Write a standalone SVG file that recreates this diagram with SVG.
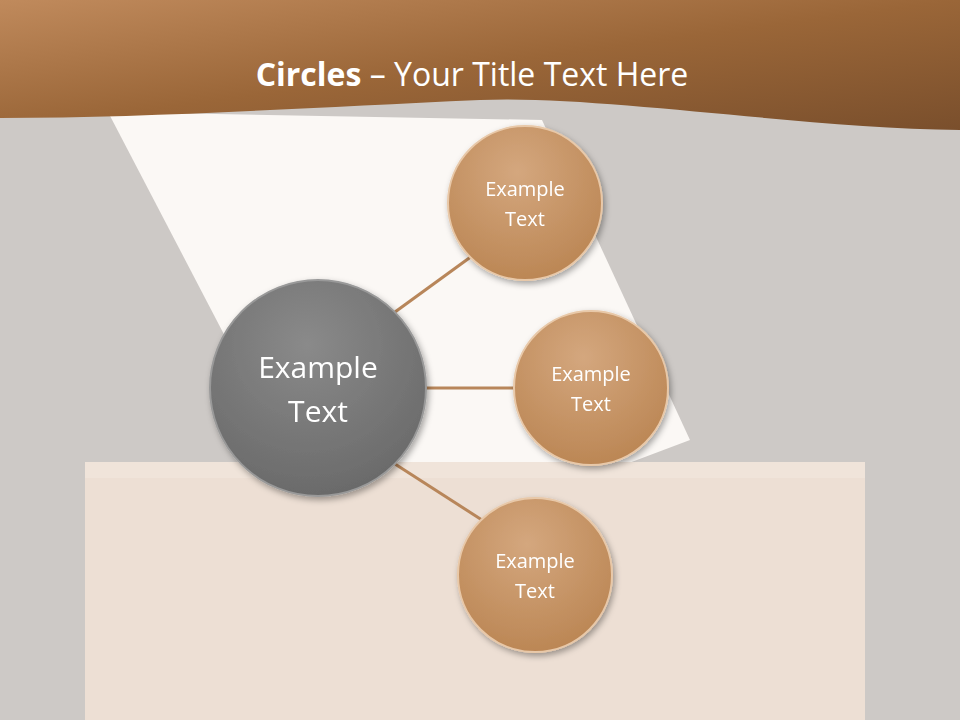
<svg xmlns="http://www.w3.org/2000/svg" width="960" height="720" viewBox="0 0 960 720">
<defs>
<linearGradient id="hdr" x1="0" y1="0" x2="1" y2="1"><stop offset="0" stop-color="#c08a5c"/><stop offset="0.5" stop-color="#9a6638"/><stop offset="1" stop-color="#7a4f2c"/></linearGradient>
<radialGradient id="sm" cx="0.45" cy="0.3" r="0.8"><stop offset="0" stop-color="#d4a77e"/><stop offset="1" stop-color="#b8824f"/></radialGradient>
<radialGradient id="bg" cx="0.45" cy="0.3" r="0.8"><stop offset="0" stop-color="#8a8a8a"/><stop offset="1" stop-color="#666"/></radialGradient>
<filter id="sh" x="-20%" y="-20%" width="140%" height="140%"><feDropShadow dx="2" dy="3" stdDeviation="3" flood-opacity="0.35"/></filter>
<style>.t{font-family:"Open Sans","Liberation Sans",sans-serif;fill:#fff;text-anchor:middle}.s{font-size:20px}.b{font-size:30px}.c{stroke:#b8865a;stroke-width:3;fill:none}.ring{stroke:#e8c8a8;stroke-width:2}</style>
</defs>
<rect width="960" height="720" fill="#cdc9c6"/>
<polygon points="108,112 542,120 690,440 605,472 300,480" fill="#fbf8f5"/>
<rect x="85" y="462" width="780" height="258" fill="#eddfd4"/>
<polygon points="85,462 865,462 865,478 85,478" fill="#f0e4da"/>
<path d="M0,0 H960 V130 C800,128 600,95 480,100 C300,108 150,118 0,118 Z" fill="url(#hdr)"/>
<text x="472" y="86" class="t" font-size="32"><tspan font-weight="bold">Circles</tspan> – Your Title Text Here</text>
<g id="connectors">
<line class="c" x1="395" y1="312" x2="472" y2="256"/>
<line class="c" x1="426" y1="388" x2="514" y2="388"/>
<line class="c" x1="395" y1="464" x2="482" y2="520"/>
</g>
<g id="n0" filter="url(#sh)"><circle cx="318" cy="388" r="108" fill="url(#bg)" stroke="#999" stroke-width="2"/><text class="t b" x="318" y="378">Example</text><text class="t b" x="318" y="422">Text</text></g>
<g id="n1" filter="url(#sh)"><circle cx="525" cy="203" r="77" fill="url(#sm)" class="ring"/><text class="t s" x="525" y="196">Example</text><text class="t s" x="525" y="226">Text</text></g>
<g id="n2" filter="url(#sh)"><circle cx="591" cy="388" r="77" fill="url(#sm)" class="ring"/><text class="t s" x="591" y="381">Example</text><text class="t s" x="591" y="411">Text</text></g>
<g id="n3" filter="url(#sh)"><circle cx="535" cy="575" r="77" fill="url(#sm)" class="ring"/><text class="t s" x="535" y="568">Example</text><text class="t s" x="535" y="598">Text</text></g>
</svg>
